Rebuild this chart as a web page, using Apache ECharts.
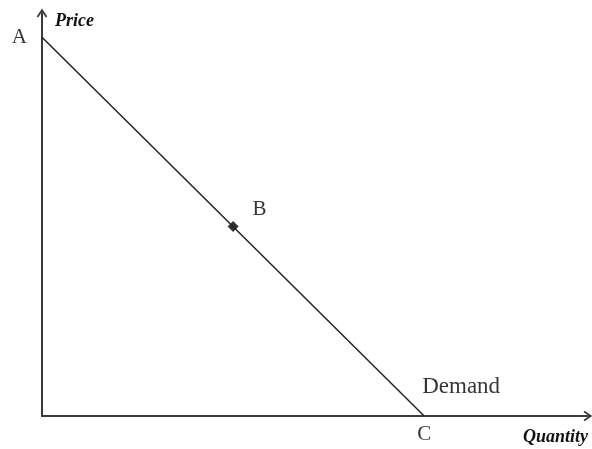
<!DOCTYPE html>
<html>
<head>
<meta charset="utf-8">
<script src="https://cdn.jsdelivr.net/npm/echarts@6/dist/echarts.min.js"></script>
<style>
  html, body { margin: 0; padding: 0; background: #fff; }
  #chart { width: 592px; height: 449px; }
</style>
</head>
<body>
<div id="chart"></div>
<script>
// demand curve end points (A on the price axis, C on the quantity axis)
const demandQty = [0, 70];
const demandPrice = [94, 0];
const endLabels = ['A', 'C'];
// point B on the curve
const pointB = [35, 47];
const axisNames = ['Quantity', 'Price'];

const serif = '"Liberation Serif", "DejaVu Serif", serif';
const chevron = 'path://M0,9 L6,0 L12,9 L10.3,10.2 L6,3.6 L1.7,10.2 Z';

var myChart = echarts.init(document.getElementById('chart'));

function axisStyle(name, extra) {
  return Object.assign({
    type: 'value',
    min: 0,
    max: 100,
    name: name,
    nameLocation: 'end',
    axisLine: {
      lineStyle: { color: '#3a3a3a', width: 2 },
      symbol: ['none', chevron],
      symbolSize: [12, 9]
    },
    axisTick: { show: false },
    axisLabel: { show: false },
    splitLine: { show: false }
  }, extra);
}

var option = {
  animation: false,
  grid: {
    left: 42,
    right: 4,
    top: 13,
    bottom: 33,
    outerBoundsMode: 'none'
  },
  xAxis: axisStyle(axisNames[0], {
    nameGap: -65,
    nameTextStyle: {
      fontFamily: serif,
      fontStyle: 'italic',
      fontWeight: 'bold',
      fontSize: 18,
      color: '#111',
      align: 'left',
      verticalAlign: 'top',
      padding: [12, 0, 0, 0]
    }
  }),
  yAxis: axisStyle(axisNames[1], {
    nameGap: -8,
    nameTextStyle: {
      fontFamily: serif,
      fontStyle: 'italic',
      fontWeight: 'bold',
      fontSize: 18,
      color: '#111',
      align: 'left',
      verticalAlign: 'middle',
      padding: [0, 0, 0, 13]
    }
  }),
  series: [
    {
      type: 'line',
      data: demandQty.map(function (q, i) { return [q, demandPrice[i]]; }),
      symbol: 'none',
      lineStyle: { color: '#222', width: 1.5 }
    },
    {
      // letters at the two ends of the curve
      type: 'scatter',
      data: demandQty.map(function (q, i) {
        return {
          value: [q, demandPrice[i]],
          label: i === 0
            ? { formatter: endLabels[i], position: 'left', distance: 15 }
            : { formatter: endLabels[i], position: 'bottom', distance: 8 }
        };
      }),
      symbolSize: 0,
      label: {
        show: true,
        fontFamily: serif,
        fontSize: 21,
        color: '#000'
      }
    },
    {
      // "Demand" tag next to C
      type: 'scatter',
      data: [[demandQty[1], demandPrice[1]]],
      symbolSize: 0,
      label: {
        show: true,
        formatter: 'Demand',
        position: 'right',
        distance: 0,
        offset: [-2, -29],
        fontFamily: serif,
        fontSize: 23,
        color: '#000'
      }
    },
    {
      type: 'scatter',
      data: [pointB],
      symbol: 'diamond',
      symbolSize: 11,
      itemStyle: { color: '#000' },
      label: {
        show: true,
        formatter: 'B',
        position: 'right',
        distance: 14,
        offset: [0, -17],
        fontFamily: serif,
        fontSize: 21,
        color: '#000'
      }
    }
  ]
};

myChart.setOption(option);
</script>
</body>
</html>
